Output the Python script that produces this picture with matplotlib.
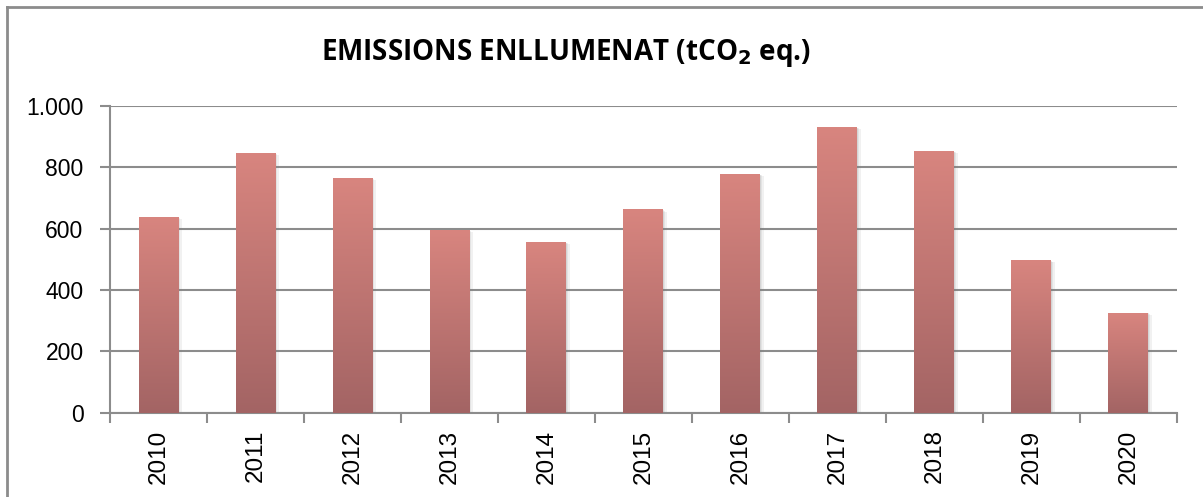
import numpy as np
import matplotlib.pyplot as plt
from matplotlib.colors import LinearSegmentedColormap
from matplotlib.patches import Rectangle
from matplotlib.lines import Line2D

years = ['2010', '2011', '2012', '2013', '2014', '2015',
         '2016', '2017', '2018', '2019', '2020']
emissions = [638, 847, 765, 595, 556, 663, 778, 931, 853, 497, 326]

grid_col = '#8c8c8c'
bar_cmap = LinearSegmentedColormap.from_list('bar', ['#a36464', '#d8857f'])

fig = plt.figure(figsize=(12.03, 4.97), dpi=100)
ax = fig.add_axes([0.0914, 0.1696, 0.8868, 0.6171])

x = np.arange(len(years))
width = 0.41
bars = ax.bar(x, emissions, width, color='none', zorder=3)

# gradient fill + soft shadow for each bar
grad = np.linspace(0, 1, 256).reshape(-1, 1)
for b in bars:
    x0, w, h = b.get_x(), b.get_width(), b.get_height()
    for k, a in [(0.035, 0.10), (0.02, 0.12), (0.008, 0.15)]:
        ax.add_patch(Rectangle((x0 + k, -8), w, h + 8 - k * 200, color='#7f7f7f',
                               alpha=a, lw=0, zorder=2))
    im = ax.imshow(grad, cmap=bar_cmap, aspect='auto', origin='lower',
                   extent=(x0, x0 + w, 0, h), zorder=3)
    im.set_clip_path(b)

ax.set_xlim(-0.5, len(years) - 0.5)
ax.set_ylim(0, 1000)
ax.set_yticks([0, 200, 400, 600, 800, 1000])
ax.set_yticklabels(['0', '200', '400', '600', '800', '1.000'],
                   fontsize=16.5, family='Liberation Sans')
ax.set_xticks(x)
ax.set_xticklabels(years, rotation=90, fontsize=17.5, family='Liberation Sans')
ax.set_xticks(np.arange(-0.5, len(years)), minor=True)
ax.tick_params(axis='x', which='major', length=0, pad=12)
ax.tick_params(axis='x', which='minor', length=7, color=grid_col, width=1.5)
ax.tick_params(axis='y', length=7, color=grid_col, width=1.5, pad=12)

ax.grid(axis='y', color=grid_col, linewidth=1.5, zorder=1)
ax.set_axisbelow(True)
for s in ['top', 'right']:
    ax.spines[s].set_visible(False)
for s in ['left', 'bottom']:
    ax.spines[s].set_color(grid_col)
    ax.spines[s].set_linewidth(1.5)

fig.text(0.4705, 0.893, r'EMISSIONS ENLLUMENAT (tCO$_\mathbf{2}$ eq.)',
         ha='center', va='center', fontsize=20, fontweight='bold',
         family='Open Sans')

# outer chart border (top and left visible)
fig.add_artist(Line2D([7 / 1203, 1], [1 - 7 / 497, 1 - 7 / 497],
                      color=grid_col, lw=2, transform=fig.transFigure))
fig.add_artist(Line2D([7 / 1203, 7 / 1203], [0, 1 - 7 / 497],
                      color=grid_col, lw=2, transform=fig.transFigure))

plt.savefig('out.png', dpi=100)
